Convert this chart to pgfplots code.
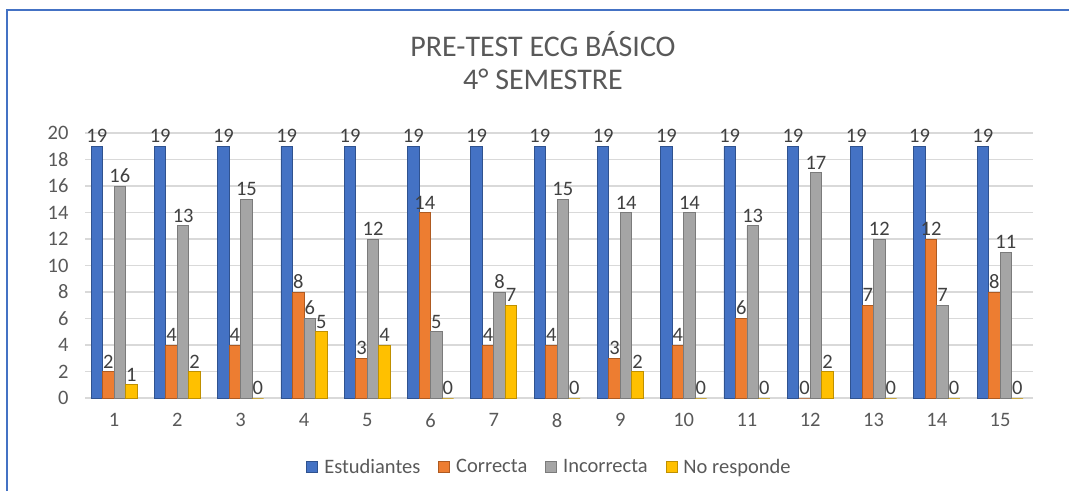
\documentclass[border=0pt]{standalone}
\usepackage{fontspec}
\setmainfont{Carlito}
\usepackage{pgfplots}
\pgfplotsset{compat=1.18}
\definecolor{cblue}{HTML}{4472C4}
\definecolor{cblueD}{HTML}{2F528F}
\definecolor{corange}{HTML}{ED7D31}
\definecolor{corangeD}{HTML}{AE5A21}
\definecolor{cgray}{HTML}{A5A5A5}
\definecolor{cgrayD}{HTML}{7B7B7B}
\definecolor{cyellow}{HTML}{FFC000}
\definecolor{cyellowD}{HTML}{BF9000}
\definecolor{tgray}{HTML}{595959}
\definecolor{lgray}{HTML}{404040}
\definecolor{gridc}{HTML}{D9D9D9}
\begin{document}
\begin{tikzpicture}[x=1pt,y=1pt]
\path[use as bounding box] (0,0) rectangle (1069,491);
\draw[cblue, line width=2pt] (7,0) -- (7,481) -- (1070,481);
\node[font=\fontsize{30}{33}\selectfont, text=tgray, align=center] at (543,430) {PRE-TEST ECG BÁSICO\\4° SEMESTRE};
\begin{axis}[
  at={(85pt,93pt)}, anchor=south west,
  scale only axis, width=948pt, height=265pt,
  ybar=0pt, bar width=11.5pt,
  xmin=0.54, xmax=15.52, ymin=0, ymax=20,
  xtick={1,...,15}, ytick={0,2,...,20},
  axis line style={draw=none}, major tick length=0pt,
  ymajorgrids, grid style={gridc, line width=1.3pt},
  tick label style={font=\fontsize{20.5}{22}\selectfont, text=tgray},
  yticklabel style={xshift=-13pt},
  xticklabel style={yshift=-12pt},
  /pgf/number format/assume math mode=true,
  nodes near coords,
  nodes near coords style={font=\fontsize{20.5}{22}\selectfont, text=lgray, inner sep=3pt},
  legend columns=4,
  legend style={at={(0.49,-0.26)}, anchor=center, draw=none, fill=none,
    font=\fontsize{20.5}{22}\selectfont, text=tgray,
    /tikz/every odd column/.append style={column sep=4pt},
    /tikz/every even column/.append style={column sep=16pt}},
  legend image code/.code={\fill[#1] (0pt,-5.5pt) rectangle (11pt,5.5pt);},
  clip=false,
]
\addplot[fill=cblue, draw=cblueD, line width=0.8pt] coordinates {(1,19)(2,19)(3,19)(4,19)(5,19)(6,19)(7,19)(8,19)(9,19)(10,19)(11,19)(12,19)(13,19)(14,19)(15,19)};
\addplot[fill=corange, draw=corangeD, line width=0.8pt] coordinates {(1,2)(2,4)(3,4)(4,8)(5,3)(6,14)(7,4)(8,4)(9,3)(10,4)(11,6)(12,0)(13,7)(14,12)(15,8)};
\addplot[fill=cgray, draw=cgrayD, line width=0.8pt] coordinates {(1,16)(2,13)(3,15)(4,6)(5,12)(6,5)(7,8)(8,15)(9,14)(10,14)(11,13)(12,17)(13,12)(14,7)(15,11)};
\addplot[fill=cyellow, draw=cyellowD, line width=0.8pt] coordinates {(1,1)(2,2)(3,0)(4,5)(5,4)(6,0)(7,7)(8,0)(9,2)(10,0)(11,0)(12,2)(13,0)(14,0)(15,0)};
\legend{Estudiantes, Correcta, Incorrecta, No responde}
\end{axis}
\end{tikzpicture}
\end{document}
